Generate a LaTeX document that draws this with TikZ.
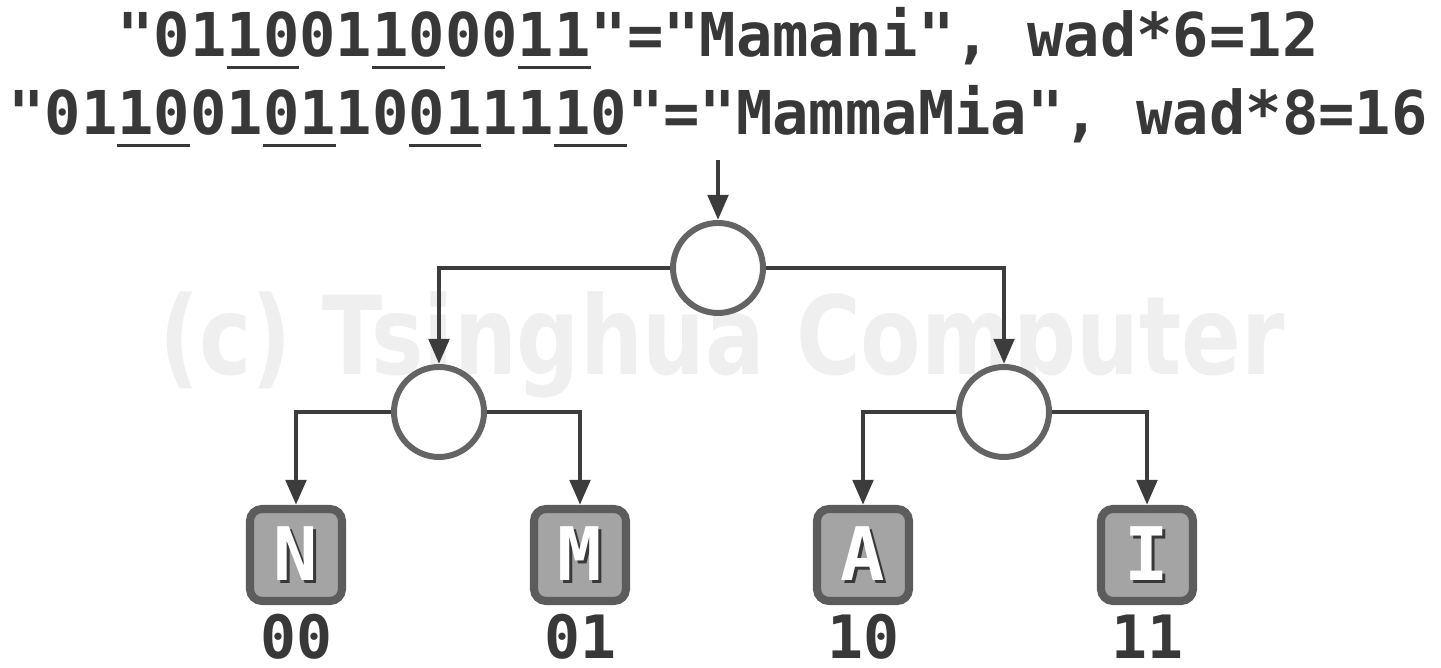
\documentclass[tikz,border=0pt]{standalone}
\usepackage{fontspec}
\usetikzlibrary{arrows.meta,positioning}
\newfontfamily\codefont{DejaVu Sans Mono}
\newfontfamily\markfont{DejaVu Sans}
\definecolor{wiregray}{HTML}{3C3C3C}
\definecolor{ringgray}{HTML}{646464}
\definecolor{boxedge}{HTML}{5C5C5C}
\definecolor{boxfill}{HTML}{A4A4A4}
\definecolor{ink}{HTML}{383838}
\definecolor{stamp}{HTML}{EFEFEF}
\newcommand\shadowletter[1]{\makebox[0pt][l]{\hspace{0.9pt}\raisebox{-0.9pt}{\color{ink}#1}}#1}
\newcommand\bitpair[1]{\setbox0\hbox{#1}\rlap{\rule[-3.5pt]{\wd0}{1pt}}\box0\relax}

\begin{document}
\begin{tikzpicture}[knot/.style={circle,draw=ringgray,line width=1.7pt,fill=white,minimum size=0.9cm,inner sep=0pt},
	leaf/.style={rounded corners=1.2mm,draw=boxedge,fill=boxfill,line width=2.3pt,minimum size=0.92cm,inner sep=0pt,text=white,font=\codefont\bfseries\fontsize{21}{21}\selectfont},
	bits/.style={text=ink,font=\codefont\bfseries\fontsize{17}{17}\selectfont,inner sep=0pt},
	code/.style={text=ink,font=\codefont\bfseries\fontsize{17.2}{17.2}\selectfont,inner sep=0pt,anchor=base},
	link/.style={draw=wiregray,line width=1.4pt,-{Triangle[width=0.2cm,length=0.25cm]}}]

	\useasboundingbox (0,0) rectangle (14.41,6.68);

	% watermark
	\node[text=stamp,font=\markfont\bfseries\fontsize{31}{31}\selectfont,xscale=0.81,transform shape] (mark) at (7.22,3.23) {(c) Tsinghua Computer};

	\node[code] (first) at (7.18,6.11) {"01\bitpair{10}01\bitpair{10}00\bitpair{11}"="Mamani", wad*6=12};
	\node[code] (second) at (7.18,5.33) {"01\bitpair{10}01\bitpair{01}10\bitpair{01}11\bitpair{10}"="MammaMia", wad*8=16};

	\coordinate (entry) at (7.18,5.08);
	\node[knot] (root) at (7.18,4.00) {};
	\node[knot] (half0) [below of=root, node distance=1.44cm, xshift=-2.79cm] {};
	\node[knot] (half1) [below of=root, node distance=1.44cm, xshift=2.86cm] {};

	\node[leaf] (leafN) [below of=half0, node distance=1.43cm, xshift=-1.43cm] {\shadowletter{N}};
	\node[leaf] (leafM) [below of=half0, node distance=1.43cm, xshift=1.41cm] {\shadowletter{M}};
	\node[leaf] (leafA) [below of=half1, node distance=1.43cm, xshift=-1.41cm] {\shadowletter{A}};
	\node[leaf] (leafI) [below of=half1, node distance=1.43cm, xshift=1.43cm] {\shadowletter{I}};

	\node[bits] (bitsN) [below of=leafN, node distance=0.82cm] {00};
	\node[bits] (bitsM) [below of=leafM, node distance=0.82cm] {01};
	\node[bits] (bitsA) [below of=leafA, node distance=0.82cm] {10};
	\node[bits] (bitsI) [below of=leafI, node distance=0.82cm] {11};

	\draw[link] (entry) -- (root);
	\draw[link] (root) -| (half0);
	\draw[link] (root) -| (half1);
	\draw[link] (half0) -| (leafN);
	\draw[link] (half0) -| (leafM);
	\draw[link] (half1) -| (leafA);
	\draw[link] (half1) -| (leafI);

\end{tikzpicture}
\end{document}
